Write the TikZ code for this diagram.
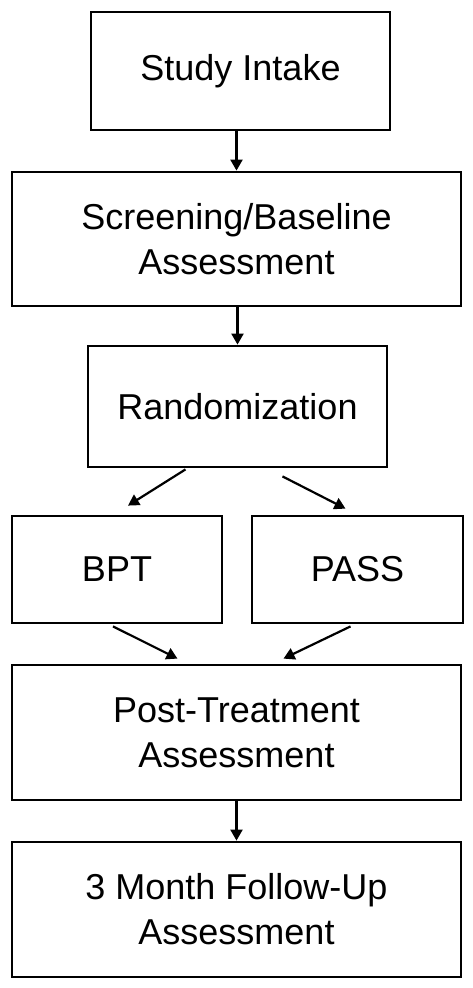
\documentclass[tikz,border=0pt]{standalone}
\usepackage{fontspec}
\setmainfont{Liberation Sans}
\usetikzlibrary{arrows.meta,calc}
\begin{document}
\begin{tikzpicture}[x=1pt,y=-1pt,
  box/.style={draw=black,line width=2.8pt,fill=white,inner sep=0pt,align=center,
    font=\fontsize{36}{45}\selectfont},
  conn/.style={draw=black,line width=2.2pt,-{Triangle[length=11pt,width=12pt]}}]
\useasboundingbox (0,0) rectangle (472,988);
\node[box,minimum width=299pt,minimum height=118pt] (study) at (240.5,71) {Study Intake};
\node[box,minimum width=449pt,minimum height=134pt] (screen) at (236.5,239) {Screening/Baseline\\Assessment};
\node[box,minimum width=299pt,minimum height=121pt] (rand) at (237.5,406.5) {Randomization};
\node[box,minimum width=210pt,minimum height=107pt] (bpt) at (117,569.5) {BPT};
\node[box,minimum width=211pt,minimum height=107pt] (pass) at (357.5,569.5) {PASS};
\node[box,minimum width=449pt,minimum height=135pt] (post) at (236.5,732.5) {Post-Treatment\\Assessment};
\node[box,minimum width=449pt,minimum height=135pt] (month) at (236.5,909.5) {3 Month Follow-Up\\Assessment};
\coordinate (r1) at ($(rand.south)+(-52,1)$);
\coordinate (b1) at ($(bpt.north)+(11,-9)$);
\coordinate (r2) at ($(rand.south)+(45,8)$);
\coordinate (p1) at ($(pass.north)+(-12,-6)$);
\coordinate (b2) at ($(bpt.south)+(-4,2)$);
\coordinate (q1) at ($(post.north)+(-59,-5)$);
\coordinate (p2) at ($(pass.south)+(-7,2)$);
\coordinate (q2) at ($(post.north)+(47,-5)$);
\draw[conn] (screen.north |- study.south) -- (screen.north);
\draw[conn] (rand.north |- screen.south) -- (rand.north);
\draw[conn] (r1) -- (b1);
\draw[conn] (r2) -- (p1);
\draw[conn] (b2) -- (q1);
\draw[conn] (p2) -- (q2);
\draw[conn] (post.south) -- (month.north);
\end{tikzpicture}
\end{document}
